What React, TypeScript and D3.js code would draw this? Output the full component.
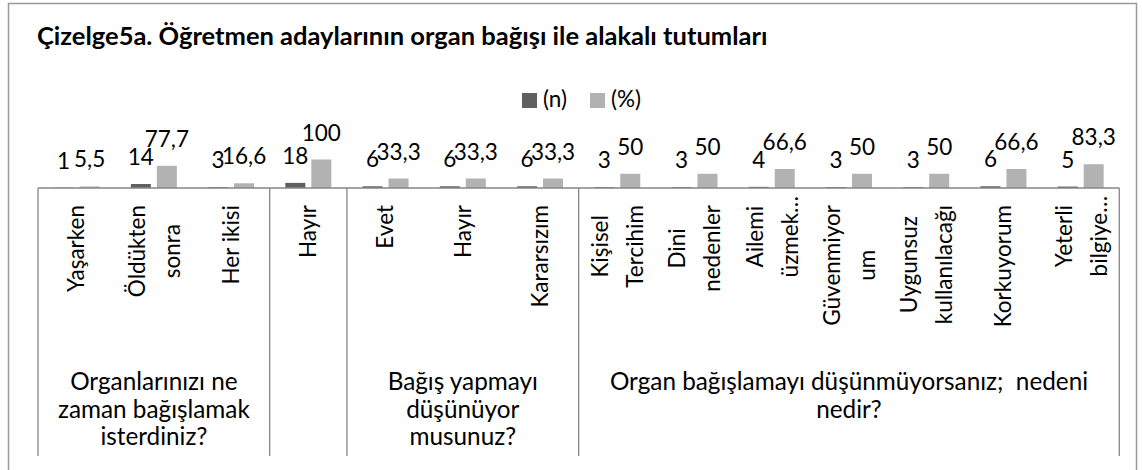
import { useEffect, useRef } from "react";
import * as d3 from "d3";

const FONT = "Lato, 'Open Sans', sans-serif";
const TITLE = "Çizelge5a. Öğretmen adaylarının organ bağışı ile alakalı tutumları";
const SERIES = ["(n)", "(%)"];
const COLORS = ["#606060", "#b2b2b2"];

// category labels (already wrapped as in the original)
const categoryLines = [
  ["Yaşarken"],
  ["Öldükten", "sonra"],
  ["Her ikisi"],
  ["Hayır"],
  ["Evet"],
  ["Hayır"],
  ["Kararsızım"],
  ["Kişisel", "Tercihim"],
  ["Dini", "nedenler"],
  ["Ailemi", "üzmek…"],
  ["Güvenmiyor", "um"],
  ["Uygunsuz", "kullanılacağı"],
  ["Korkuyorum"],
  ["Yeterli", "bilgiye…"],
];
const groupLines = [
  ["Organlarınızı ne", "zaman bağışlamak", "isterdiniz?"],
  [],
  ["Bağış yapmayı", "düşünüyor", "musunuz?"],
  ["Organ bağışlamayı düşünmüyorsanız;  nedeni", "nedir?"],
];
const groupSizes = [3, 1, 3, 7];
const nValues = [1, 14, 3, 18, 6, 6, 6, 3, 3, 4, 3, 3, 6, 5];
const pctValues = [5.5, 77.7, 16.6, 100, 33.3, 33.3, 33.3, 50, 50, 66.6, 50, 50, 66.6, 83.3];

const width = 1142;
const height = 470;

export default function App() {
  const ref = useRef<SVGSVGElement>(null);

  useEffect(() => {
    if (!ref.current) return;
    const svg = d3.select(ref.current);
    svg.selectAll("*").remove();

    const plotLeft = 38;
    const plotRight = 1119.3;
    const baseY = 188;
    const sepBottom = 456;
    const fs = 22.5;

    const x = d3
      .scaleBand<number>()
      .domain(d3.range(categoryLines.length))
      .range([plotLeft, plotRight]);
    const sub = d3
      .scaleBand<number>()
      .domain([0, 1])
      .range([-23, 23])
      .paddingInner(0.23);
    const y = d3.scaleLinear().domain([0, 100]).range([baseY, baseY - 28.5]);
    const fmt = (v: number) => String(v).replace(".", ",");

    // outer chart border
    svg
      .append("rect")
      .attr("x", 8.5)
      .attr("y", 3.5)
      .attr("width", 1128)
      .attr("height", 520)
      .attr("fill", "#fff")
      .attr("stroke", "#9a9a9a")
      .attr("stroke-width", 1.5);

    // title
    svg
      .append("text")
      .attr("x", 37)
      .attr("y", 45)
      .attr("font-family", FONT)
      .attr("font-weight", "bold")
      .attr("font-size", 25.5)
      .text(TITLE);

    // legend
    const legendX = [522, 590];
    SERIES.forEach((s, i) => {
      svg
        .append("rect")
        .attr("x", legendX[i])
        .attr("y", 93)
        .attr("width", 15)
        .attr("height", 15)
        .attr("fill", COLORS[i]);
      svg
        .append("text")
        .attr("x", legendX[i] + 21)
        .attr("y", 107)
        .attr("font-family", FONT)
        .attr("font-size", fs)
        .text(s);
    });

    // bars + data labels
    const series = [nValues, pctValues];
    series.forEach((vals, si) => {
      const g = svg.append("g");
      g.selectAll("rect")
        .data(vals)
        .join("rect")
        .attr("x", (_, i) => x(i)! + x.bandwidth() / 2 + sub(si)!)
        .attr("width", sub.bandwidth())
        .attr("y", (d) => y(d))
        .attr("height", (d) => baseY - y(d))
        .attr("fill", COLORS[si]);
      g.selectAll("text")
        .data(vals)
        .join("text")
        .attr("x", (_, i) => x(i)! + x.bandwidth() / 2 + sub(si)! + sub.bandwidth() / 2)
        .attr("y", (d) => y(d) - 19)
        .attr("text-anchor", "middle")
        .attr("font-family", FONT)
        .attr("font-size", fs)
        .text((d) => fmt(d));
    });

    // axis line and group separators
    svg
      .append("line")
      .attr("x1", plotLeft)
      .attr("x2", plotRight)
      .attr("y1", baseY)
      .attr("y2", baseY)
      .attr("stroke", "#868686")
      .attr("stroke-width", 1.3);

    const bounds = [0, ...d3.cumsum(groupSizes)];
    bounds.forEach((b) => {
      const bx = b === 0 ? plotLeft : b === categoryLines.length ? plotRight : x(b)!;
      svg
        .append("line")
        .attr("x1", bx)
        .attr("x2", bx)
        .attr("y1", baseY)
        .attr("y2", sepBottom)
        .attr("stroke", "#868686")
        .attr("stroke-width", 1.3);
    });

    // rotated category labels
    categoryLines.forEach((lines, i) => {
      const cx = x(i)! + x.bandwidth() / 2;
      const offs = lines.length === 1 ? [0] : [-17, 18];
      const t = svg
        .append("text")
        .attr("font-family", FONT)
        .attr("font-size", fs);
      lines.forEach((l, li) => {
        t.append("tspan")
          .attr("x", 0)
          .attr("y", offs[li] + fs * 0.35)
          .text(l);
      });
      if (lines.length === 1) {
        t.attr("text-anchor", "end").attr("transform", `translate(${cx},205) rotate(-90)`);
      } else {
        const maxLen = d3.max(
          t.selectAll<SVGTSpanElement, unknown>("tspan").nodes(),
          (n) => n.getComputedTextLength()
        )!;
        // truncated labels sit a little higher, like the original
        const top = lines.some((l) => l.endsWith("…")) ? 196 : 205;
        t.attr("text-anchor", "middle").attr(
          "transform",
          `translate(${cx},${top + maxLen / 2}) rotate(-90)`
        );
      }
    });

    // group labels
    groupLines.forEach((lines, gi) => {
      const gx = (x(bounds[gi])! + (bounds[gi + 1] === categoryLines.length ? plotRight : x(bounds[gi + 1])!)) / 2;
      lines.forEach((l, li) => {
        svg
          .append("text")
          .attr("x", gx)
          .attr("y", 390 + li * 27.5)
          .attr("text-anchor", "middle")
          .attr("font-family", FONT)
          .attr("font-size", 24.3)
          .style("white-space", "pre")
          .text(l);
      });
    });
  }, []);

  return (
    <svg
      ref={ref}
      width={width}
      height={height}
      viewBox={`0 0 ${width} ${height}`}
      style={{ position: "absolute", left: 0, top: 0, background: "#fff" }}
    />
  );
}
